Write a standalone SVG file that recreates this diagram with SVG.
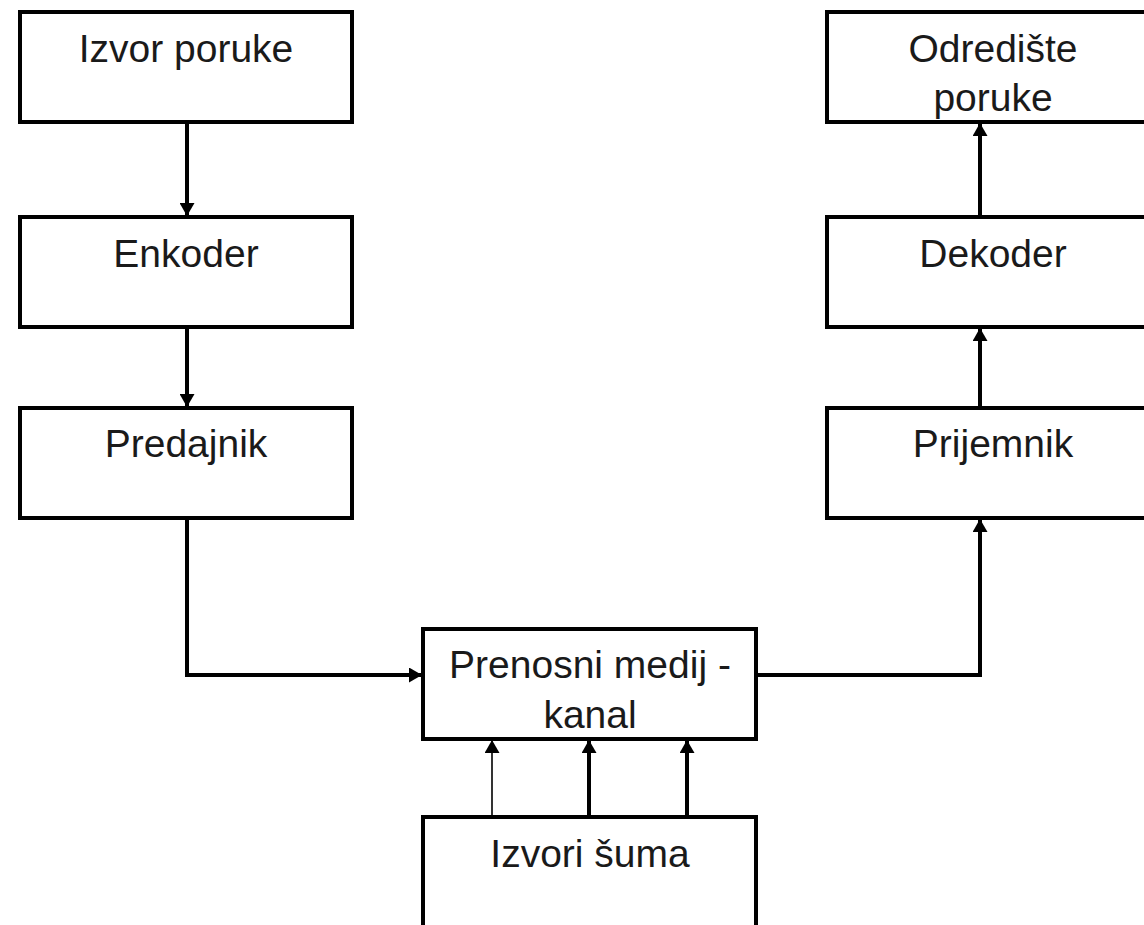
<svg xmlns="http://www.w3.org/2000/svg" width="1144" height="925" viewBox="0 0 1144 925">
<style>
.box{fill:#fff;stroke:#000;stroke-width:4}
.lbl{font-family:"Liberation Sans",Arial,sans-serif;font-size:39px;fill:#1a1a1a;text-anchor:middle}
.con{fill:none;stroke:#000;stroke-width:4;marker-end:url(#ah)}
.thin{stroke-width:1.6}
</style>
<defs>
<marker id="ah" markerUnits="userSpaceOnUse" viewBox="0 0 13 15" markerWidth="13" markerHeight="15" refX="12" refY="7.5" orient="auto">
<path d="M0,0 L13,7.5 L0,15 z" fill="#000"/>
</marker>
</defs>
<rect width="1144" height="925" fill="#fff"/>
<g id="izvor-poruke"><rect class="box" x="20" y="12" width="332" height="110"/><text class="lbl" x="186" y="62">Izvor poruke</text></g>
<g id="enkoder"><rect class="box" x="20" y="217" width="332" height="110"/><text class="lbl" x="186" y="267">Enkoder</text></g>
<g id="predajnik"><rect class="box" x="20" y="408" width="332" height="110"/><text class="lbl" x="186" y="457">Predajnik</text></g>
<g id="odrediste-poruke"><rect class="box" x="827" y="12" width="332" height="110"/><text class="lbl" x="993" y="62">Odredište</text><text class="lbl" x="993" y="111">poruke</text></g>
<g id="dekoder"><rect class="box" x="827" y="217" width="332" height="110"/><text class="lbl" x="993" y="267">Dekoder</text></g>
<g id="prijemnik"><rect class="box" x="827" y="408" width="332" height="110"/><text class="lbl" x="993" y="457">Prijemnik</text></g>
<g id="prenosni-medij"><rect class="box" x="423" y="629" width="333" height="110"/><text class="lbl" x="590" y="678">Prenosni medij -</text><text class="lbl" x="590" y="728">kanal</text></g>
<g id="izvori-suma"><rect class="box" x="423" y="817" width="333" height="140"/><text class="lbl" x="590" y="867">Izvori šuma</text></g>
<g id="connectors">
<path class="con" d="M187,122 V215"/>
<path class="con" d="M187,327 V406"/>
<path class="con" d="M187,518 V675 H421"/>
<path class="con" d="M756,675 H980 V520"/>
<path class="con" d="M980,408 V329"/>
<path class="con" d="M980,217 V124"/>
<path class="con thin" d="M492,817 V741"/>
<path class="con" d="M589,817 V741"/>
<path class="con" d="M687,817 V741"/>
</g>
</svg>
